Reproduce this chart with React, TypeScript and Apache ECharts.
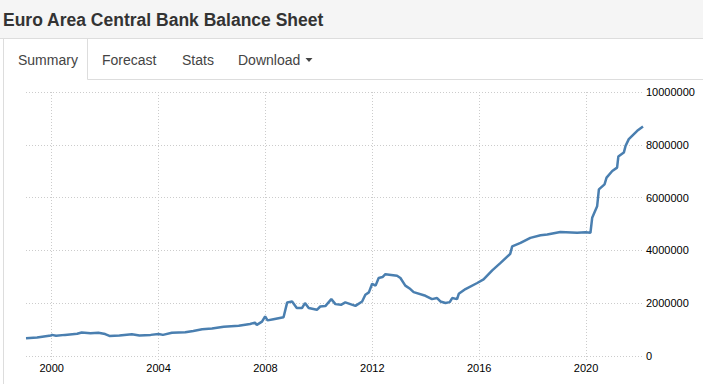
import React, { useEffect, useRef } from "react";
import * as echarts from "echarts";

const titleText = "Euro Area Central Bank Balance Sheet";
const tabLabels = ["Summary", "Forecast", "Stats", "Download"];
const yearTicks = [2000, 2004, 2008, 2012, 2016, 2020];
const yTickValues = [0, 2000000, 4000000, 6000000, 8000000, 10000000];

const dates = [
  "1999-01-15", "1999-06-15", "1999-12-20", "2000-01-05", "2000-03-01", "2000-07-01",
  "2000-12-15", "2001-02-15", "2001-06-15", "2001-10-01", "2002-01-01", "2002-03-01",
  "2002-07-15", "2003-01-01", "2003-04-15", "2003-09-15", "2004-01-01", "2004-03-01",
  "2004-07-01", "2005-01-01", "2005-04-20", "2005-08-20", "2006-01-01", "2006-06-10",
  "2007-01-01", "2007-06-05", "2007-08-10", "2007-09-05", "2007-11-15", "2007-12-28",
  "2008-01-30", "2008-04-20", "2008-09-05", "2008-10-25", "2008-12-31", "2009-03-05",
  "2009-05-15", "2009-06-25", "2009-08-15", "2009-12-05", "2010-01-20", "2010-03-30",
  "2010-06-20", "2010-08-15", "2010-10-30", "2010-12-28", "2011-05-15", "2011-08-15",
  "2011-09-28", "2011-11-15", "2011-12-30", "2012-02-15", "2012-03-28", "2012-05-20",
  "2012-06-28", "2012-12-05", "2013-01-20", "2013-03-28", "2013-06-05", "2013-07-20",
  "2013-12-28", "2014-03-28", "2014-06-05", "2014-07-20", "2014-09-28", "2014-11-25",
  "2014-12-28", "2015-03-05", "2015-03-28", "2015-06-28", "2015-12-05", "2016-03-01",
  "2016-06-28", "2016-10-20", "2017-03-01", "2017-03-28", "2017-07-20", "2017-12-01",
  "2018-04-20", "2018-07-20", "2019-01-15", "2019-09-01", "2019-12-25", "2020-03-01",
  "2020-03-25", "2020-06-01", "2020-06-25", "2020-09-10", "2020-10-08", "2020-12-25",
  "2021-03-01", "2021-03-18", "2021-06-01", "2021-06-25", "2021-08-08", "2021-12-01",
  "2022-02-18",
];

const values = [
  673000, 700000, 775000, 800000, 765000, 800000,
  840000, 890000, 865000, 880000, 830000, 760000,
  775000, 820000, 775000, 800000, 835000, 800000,
  880000, 900000, 950000, 1010000, 1040000, 1110000,
  1150000, 1215000, 1265000, 1180000, 1300000, 1500000,
  1350000, 1395000, 1470000, 2030000, 2065000, 1815000,
  1815000, 2005000, 1815000, 1750000, 1875000, 1890000,
  2155000, 1965000, 1940000, 2030000, 1900000, 2065000,
  2320000, 2410000, 2735000, 2665000, 2955000, 2990000,
  3100000, 3040000, 2955000, 2665000, 2535000, 2420000,
  2280000, 2155000, 2195000, 2065000, 2010000, 2040000,
  2195000, 2155000, 2355000, 2535000, 2765000, 2900000,
  3245000, 3525000, 3870000, 4155000, 4285000, 4475000,
  4575000, 4600000, 4700000, 4665000, 4690000, 4665000,
  5235000, 5675000, 6310000, 6500000, 6755000, 7010000,
  7135000, 7555000, 7705000, 7960000, 8215000, 8530000,
  8695000,
];

// convert a "YYYY-MM-DD" date into a fractional year for the value axis
function toYear(d: string): number {
  const [y, m, day] = d.split("-").map(Number);
  const start = Date.UTC(y, 0, 1);
  const end = Date.UTC(y + 1, 0, 1);
  return y + (Date.UTC(y, m - 1, day) - start) / (end - start);
}

export default function App() {
  const ref = useRef<HTMLDivElement>(null);

  useEffect(() => {
    if (!ref.current) return;
    const chart = echarts.init(ref.current, null, { renderer: "svg" });
    const seriesData = dates.map((d, i) => [toYear(d), values[i]]);
    const font = "Arial, 'Liberation Sans', Helvetica, sans-serif";
    const tabX = [18, 102, 182, 238];

    chart.setOption({
      animation: false,
      backgroundColor: "#ffffff",
      textStyle: { fontFamily: font },
      grid: { left: 26, right: 60, top: 92, bottom: 28, containLabel: false },
      graphic: [
        { type: "rect", shape: { x: 0, y: 0, width: 703, height: 38 }, style: { fill: "#f5f5f5" }, z: 0 },
        { type: "line", shape: { x1: 0, y1: 38.5, x2: 703, y2: 38.5 }, style: { stroke: "#dddddd", lineWidth: 1 } },
        { type: "line", shape: { x1: 3.5, y1: 38.5, x2: 3.5, y2: 384 }, style: { stroke: "#dddddd", lineWidth: 1 } },
        { type: "line", shape: { x1: 87.5, y1: 38.5, x2: 87.5, y2: 79.5 }, style: { stroke: "#dddddd", lineWidth: 1 } },
        { type: "line", shape: { x1: 87.5, y1: 79.5, x2: 703, y2: 79.5 }, style: { stroke: "#dddddd", lineWidth: 1 } },
        {
          type: "text",
          x: 3,
          y: 20,
          style: {
            text: titleText,
            fontFamily: font,
            fontSize: 17.5,
            fontWeight: "bold",
            fill: "#333333",
            verticalAlign: "middle",
          },
        },
        ...tabLabels.map((t, i) => ({
          type: "text",
          x: tabX[i],
          y: 59.5,
          style: {
            text: t,
            fontFamily: font,
            fontSize: 14,
            fill: "#444444",
            verticalAlign: "middle",
          },
        })),
        {
          type: "polygon",
          shape: { points: [[305.5, 58], [312.5, 58], [309, 62]] },
          style: { fill: "#444444" },
        },
      ],
      xAxis: {
        type: "value",
        min: toYear(dates[0]),
        max: toYear(dates[dates.length - 1]),
        axisLine: { show: false },
        axisTick: {
          show: true,
          customValues: yearTicks,
          length: 6,
          lineStyle: { color: "#cccccc", type: [1, 2] },
        },
        axisLabel: {
          customValues: yearTicks,
          formatter: (v: number) => String(Math.round(v)),
          color: "#000000",
          fontSize: 11,
          fontFamily: font,
          margin: 6,
        },
        splitLine: {
          show: true,
          lineStyle: { color: "#cccccc", type: [1, 2], width: 1 },
        },
      },
      yAxis: {
        type: "value",
        position: "right",
        min: yTickValues[0],
        max: yTickValues[yTickValues.length - 1],
        interval: 2000000,
        axisLine: { show: false },
        axisTick: { show: false },
        axisLabel: {
          color: "#000000",
          fontSize: 11,
          fontFamily: font,
          margin: 3,
          formatter: (v: number) => String(v),
        },
        splitLine: {
          show: true,
          lineStyle: { color: "#cccccc", type: [1, 2], width: 1 },
        },
      },
      series: [
        {
          type: "line",
          data: seriesData,
          showSymbol: false,
          symbol: "none",
          lineStyle: { color: "#4a7fb0", width: 2.5 },
          itemStyle: { color: "#4a7fb0" },
        },
      ],
    });

    return () => chart.dispose();
  }, []);

  return (
    <div
      ref={ref}
      style={{ position: "fixed", left: 0, top: 0, width: 703, height: 384, background: "#fff" }}
    />
  );
}
